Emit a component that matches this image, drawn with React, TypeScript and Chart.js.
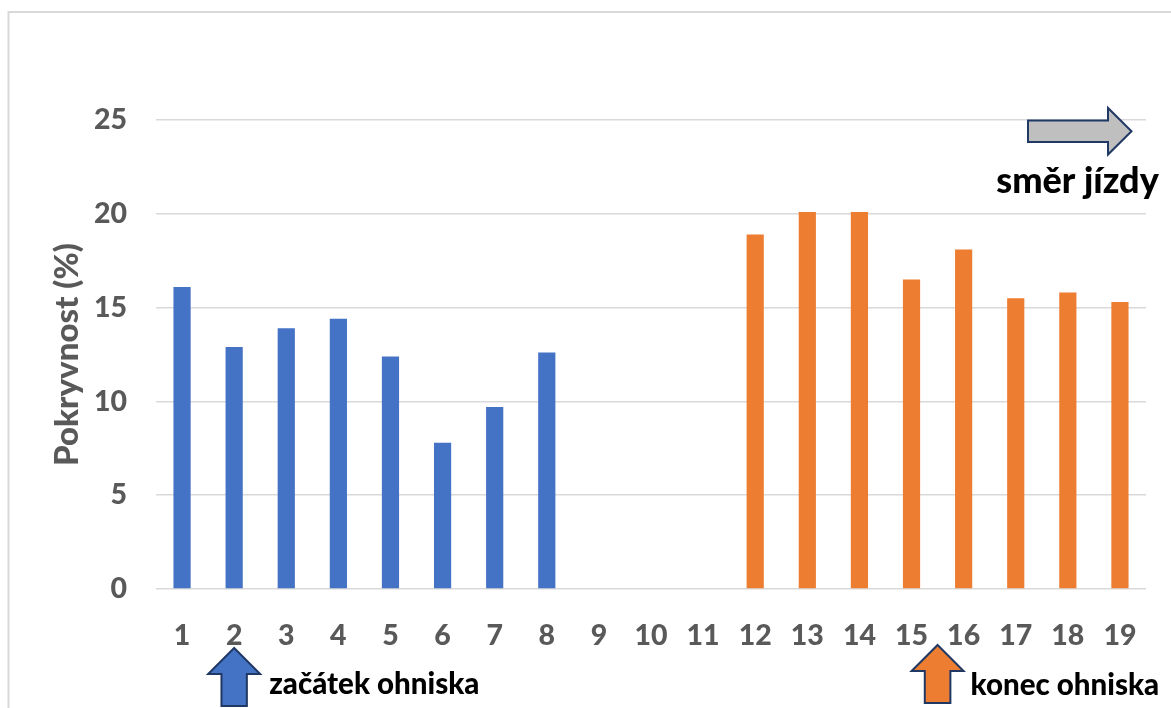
import React, { useEffect, useRef } from "react";
import { Chart, registerables } from "chart.js";

Chart.register(...registerables);

const categories = ["1", "2", "3", "4", "5", "6", "7", "8", "9", "10", "11", "12", "13", "14", "15", "16", "17", "18", "19"];
const startValues = [16.1, 12.9, 13.9, 14.4, 12.4, 7.8, 9.7, 12.6, null, null, null, null, null, null, null, null, null, null, null];
const endValues = [null, null, null, null, null, null, null, null, null, null, null, 18.9, 20.1, 20.1, 16.5, 18.1, 15.5, 15.8, 15.3];
const yTicks = [0, 5, 10, 15, 20, 25];
const axisTitle = "Pokryvnost (%)";
const startLabel = "začátek ohniska";
const endLabel = "konec ohniska";
const directionLabel = "směr jízdy";

const FONT = "Lato, 'Open Sans', sans-serif";
const WEIGHT = 900;
const BLUE = "#4472C4";
const ORANGE = "#ED7D31";
const NAVY = "#203864";
const GRID = "#d9d9d9";
const TICK = "#595959";

function upArrow(ctx: CanvasRenderingContext2D, xc: number, tip: number, base: number, bottom: number, headHalf: number, shaftHalf: number, fill: string) {
  ctx.beginPath();
  ctx.moveTo(xc, tip);
  ctx.lineTo(xc + headHalf, base);
  ctx.lineTo(xc + shaftHalf, base);
  ctx.lineTo(xc + shaftHalf, bottom);
  ctx.lineTo(xc - shaftHalf, bottom);
  ctx.lineTo(xc - shaftHalf, base);
  ctx.lineTo(xc - headHalf, base);
  ctx.closePath();
  ctx.fillStyle = fill;
  ctx.fill();
  ctx.lineWidth = 2;
  ctx.lineJoin = "miter";
  ctx.strokeStyle = NAVY;
  ctx.stroke();
}

function rightArrow(ctx: CanvasRenderingContext2D, x0: number, yc: number, base: number, tip: number, shaftHalf: number, headHalf: number, fill: string) {
  ctx.beginPath();
  ctx.moveTo(x0, yc - shaftHalf);
  ctx.lineTo(base, yc - shaftHalf);
  ctx.lineTo(base, yc - headHalf);
  ctx.lineTo(tip, yc);
  ctx.lineTo(base, yc + headHalf);
  ctx.lineTo(base, yc + shaftHalf);
  ctx.lineTo(x0, yc + shaftHalf);
  ctx.closePath();
  ctx.fillStyle = fill;
  ctx.fill();
  ctx.lineWidth = 2;
  ctx.lineJoin = "miter";
  ctx.strokeStyle = NAVY;
  ctx.stroke();
}

function label(ctx: CanvasRenderingContext2D, text: string, x: number, y: number, size: number, align: CanvasTextAlign) {
  ctx.font = `${WEIGHT} ${size}px ${FONT}`;
  ctx.fillStyle = "#000";
  ctx.textBaseline = "alphabetic";
  ctx.textAlign = align;
  ctx.fillText(text, x, y);
}

const framePlugin = {
  id: "frame",
  beforeDraw(chart: any) {
    const ctx = chart.ctx as CanvasRenderingContext2D;
    ctx.save();
    ctx.strokeStyle = GRID;
    ctx.lineWidth = 2;
    ctx.beginPath();
    ctx.moveTo(8.5, chart.height);
    ctx.lineTo(8.5, 12);
    ctx.lineTo(chart.width, 12);
    ctx.stroke();
    ctx.restore();
  },
};

const annotationPlugin = {
  id: "annotations",
  afterDraw(chart: any) {
    const ctx = chart.ctx as CanvasRenderingContext2D;
    const x = chart.scales.x;
    const y = chart.scales.y;
    const area = chart.chartArea;
    ctx.save();
    // start arrow under category 2
    const bx = x.getPixelForValue(1);
    upArrow(ctx, bx, area.bottom + 59, area.bottom + 85, area.bottom + 117, 26, 12.7, BLUE);
    label(ctx, startLabel, bx + 35, area.bottom + 105, 29.5, "left");
    // end arrow between categories 15 and 16
    const ox = x.getPixelForValue(14.5);
    upArrow(ctx, ox, area.bottom + 56, area.bottom + 82, area.bottom + 114, 26, 12.8, ORANGE);
    label(ctx, endLabel, ox + 33, area.bottom + 106, 29.5, "left");
    // direction arrow
    const yc = y.getPixelForValue(24.4);
    rightArrow(ctx, area.right - 118, yc, area.right - 38, area.right - 14.5, 10.8, 23.3, "#BFBFBF");
    label(ctx, directionLabel, area.right - 68.5, y.getPixelForValue(21.2) + 2, 36, "center");
    ctx.restore();
  },
};

export default function App() {
  const ref = useRef<HTMLCanvasElement>(null);
  useEffect(() => {
    if (!ref.current) return;
    const chart = new Chart(ref.current, {
      type: "bar",
      data: {
        labels: categories,
        datasets: [
          { label: "start", data: startValues as any, backgroundColor: BLUE },
          { label: "end", data: endValues as any, backgroundColor: ORANGE },
        ],
      },
      options: {
        responsive: false,
        animation: false,
        datasets: { bar: { grouped: false, categoryPercentage: 1, barPercentage: 0.33 } } as any,
        layout: { padding: { top: 120, right: 25, left: 0, bottom: 0 } },
        plugins: { legend: { display: false }, tooltip: { enabled: false } },
        scales: {
          x: {
            grid: { display: false },
            border: { display: false },
            ticks: { color: TICK, font: { family: FONT, size: 28.5, weight: WEIGHT as any }, padding: 22 },
            afterFit: (s: any) => { s.height = 119; },
          },
          y: {
            min: 0,
            max: 25,
            afterBuildTicks: (s: any) => { s.ticks = yTicks.map((v) => ({ value: v })); },
            grid: { color: GRID, lineWidth: 1.5, drawTicks: false },
            border: { display: false },
            ticks: { color: TICK, font: { family: FONT, size: 28.5, weight: WEIGHT as any }, padding: 29 },
            title: {
              display: true,
              text: axisTitle,
              color: TICK,
              font: { family: FONT, size: 33, weight: WEIGHT as any },
              padding: { top: 48, bottom: 0 },
            },
            afterFit: (s: any) => { s.width = 156; },
          },
        },
      },
      plugins: [framePlugin, annotationPlugin],
    });
    return () => chart.destroy();
  }, []);
  return (
    <div style={{ position: "fixed", left: 0, top: 0, width: 1171, height: 708, background: "#fff", overflow: "hidden" }}>
      <canvas ref={ref} width={1171} height={708} style={{ display: "block" }} />
    </div>
  );
}
